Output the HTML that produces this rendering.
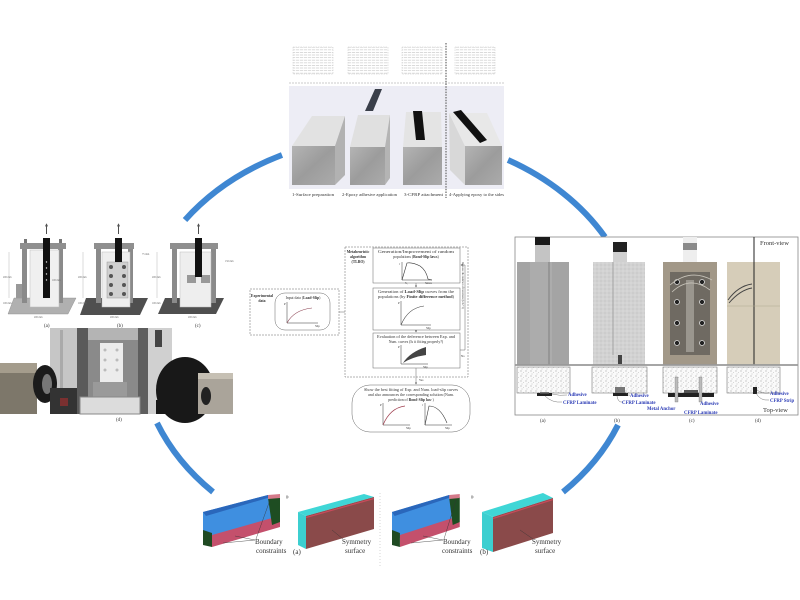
<!DOCTYPE html>
<html><head><meta charset="utf-8"><style>
html,body{margin:0;padding:0;background:#fff;}
svg{display:block;}
text{font-family:"Liberation Serif",serif;}
</style></head><body>
<svg width="800" height="600" viewBox="0 0 800 600" xmlns="http://www.w3.org/2000/svg">
<defs>
<pattern id="tl" width="4" height="2.6" patternUnits="userSpaceOnUse"><rect width="3.2" height="0.8" fill="#d2d2d2"/></pattern>
<pattern id="spk" width="5" height="5" patternUnits="userSpaceOnUse"><rect width="5" height="5" fill="#fafafa"/><circle cx="1" cy="1" r="0.45" fill="#777"/><circle cx="3.5" cy="2.5" r="0.35" fill="#999"/><circle cx="2" cy="4" r="0.4" fill="#888"/></pattern>
<pattern id="spk2" width="4" height="4" patternUnits="userSpaceOnUse"><rect width="4" height="4" fill="#d2d2d2"/><circle cx="1" cy="1" r="0.5" fill="#b5b5b5"/><circle cx="3" cy="3" r="0.5" fill="#e8e8e8"/></pattern>
<linearGradient id="cf" x1="0" y1="0" x2="1" y2="1"><stop offset="0" stop-color="#b4b4b4"/><stop offset="0.5" stop-color="#9c9c9c"/><stop offset="1" stop-color="#ababab"/></linearGradient>
<marker id="ah" markerWidth="4" markerHeight="4" refX="3" refY="2" orient="auto"><path d="M0,0 L4,2 L0,4 Z" fill="#555"/></marker>
</defs>
<rect width="800" height="600" fill="#fff"/>

<!-- blue arcs -->
<g fill="none" stroke="#3f87d2" stroke-width="6">
<path d="M185,220 A253,205 0 0,1 282,155"/>
<path d="M508,160 A253,205 0 0,1 605,237"/>
<path d="M618,425 A253,205 0 0,1 563,492"/>
<path d="M213,492 A253,205 0 0,1 157,423"/>
</g>

<!-- ============ TOP PANEL ============ -->
<g>
<g stroke="#c8c8c8" stroke-width="0.5" stroke-dasharray="1.5 1">
<rect x="293" y="47" width="40" height="27" fill="url(#tl)"/>
<rect x="348" y="47" width="40" height="27" fill="url(#tl)"/>
<rect x="402" y="47" width="40" height="27" fill="url(#tl)"/>
<rect x="455" y="47" width="40" height="27" fill="url(#tl)"/>
</g>
<line x1="289" y1="83" x2="504" y2="83" stroke="#bbb" stroke-width="0.8" stroke-dasharray="2 1"/>
<rect x="289" y="86" width="215" height="103" fill="#ededf5"/>
<!-- block1 -->
<polygon points="292,146 312,116 345,116 335,146" fill="#e2e2e2"/>
<polygon points="335,146 345,116 345,175 335,185" fill="#b2b2b2"/>
<rect x="292" y="146" width="43" height="39" fill="url(#cf)"/>
<!-- block2 -->
<polygon points="350,147 358,115 390,115 385,147" fill="#e0e0e0"/>
<polygon points="385,147 390,115 390,178 385,185" fill="#b4b4b4"/>
<rect x="350" y="147" width="35" height="38" fill="url(#cf)"/>
<polygon points="365,111 373,111 382,89 375,89" fill="#3a3f4a"/>
<!-- block3 -->
<polygon points="403,147 406,112 441,112 442,147" fill="#e4e4e4"/>
<rect x="403" y="147" width="39" height="38" fill="url(#cf)"/>
<polygon points="413,111 422,111 425,140 416,140" fill="#111"/>
<!-- block4 -->
<polygon points="449,113 465,146 465,185 450,170" fill="#d8d8d8"/>
<polygon points="449,113 487,113 502,146 465,146" fill="#e8e8e8"/>
<rect x="465" y="146" width="37" height="39" fill="url(#cf)"/>
<polygon points="453,112 461,110 487,140 480,143" fill="#111"/>
<line x1="446" y1="43" x2="446" y2="198" stroke="#666" stroke-width="1.2" stroke-dasharray="1.5 1.2"/>
<g font-size="4.6" fill="#333">
<text x="292" y="196" textLength="42" lengthAdjust="spacingAndGlyphs">1-Surface preparation</text>
<text x="342" y="196" textLength="55" lengthAdjust="spacingAndGlyphs">2-Epoxy adhesive application</text>
<text x="404" y="196" textLength="39" lengthAdjust="spacingAndGlyphs">3-CFRP attachment</text>
<text x="449" y="196" textLength="55" lengthAdjust="spacingAndGlyphs">4-Applying epoxy to the sides</text>
</g>
</g>

<!-- ============ LEFT PANEL ============ -->
<g>
<!-- (a) -->
<polygon points="14,298 76,298 68,314 8,314" fill="#b0b0b0" stroke="#888" stroke-width="0.4"/>
<rect x="16" y="284" width="8" height="14" fill="#999"/>
<rect x="22" y="245" width="5" height="58" fill="#8a8a8a"/>
<rect x="58" y="245" width="5" height="58" fill="#8a8a8a"/>
<rect x="30" y="250" width="29" height="57" fill="#f0f0f0" stroke="#bbb" stroke-width="0.5"/>
<rect x="20" y="243" width="46" height="6" fill="#8f8f8f"/>
<rect x="24" y="239" width="3" height="4" fill="#777"/><rect x="59" y="239" width="3" height="4" fill="#777"/>
<rect x="43" y="238" width="7" height="60" fill="#111"/>
<g fill="#ddd"><circle cx="46.5" cy="262" r="0.7"/><circle cx="46.5" cy="268" r="0.7"/><circle cx="46.5" cy="274" r="0.7"/><circle cx="46.5" cy="280" r="0.7"/></g>
<line x1="46.5" y1="234" x2="46.5" y2="224" stroke="#222" stroke-width="0.8" marker-end="url(#ah)"/>
<!-- (b) -->
<polygon points="86,298 148,298 140,315 80,315" fill="#4f4f4f"/>
<rect x="96" y="245" width="5" height="58" fill="#8a8a8a"/>
<rect x="128" y="245" width="5" height="58" fill="#8a8a8a"/>
<rect x="102" y="252" width="28" height="55" fill="#eee" stroke="#bbb" stroke-width="0.5"/>
<rect x="94" y="243" width="40" height="6" fill="#8f8f8f"/>
<rect x="107" y="262" width="21" height="36" fill="#d0d0d0" stroke="#999" stroke-width="0.5"/>
<g fill="#555"><circle cx="111" cy="267" r="2"/><circle cx="124" cy="267" r="2"/><circle cx="111" cy="276" r="2"/><circle cx="124" cy="276" r="2"/><circle cx="111" cy="285" r="2"/><circle cx="124" cy="285" r="2"/><circle cx="111" cy="294" r="2"/><circle cx="124" cy="294" r="2"/></g>
<rect x="115" y="238" width="7" height="24" fill="#111"/>
<line x1="118.5" y1="234" x2="118.5" y2="224" stroke="#222" stroke-width="0.8" marker-end="url(#ah)"/>
<!-- (c) -->
<polygon points="165,298 224,298 216,314 158,314" fill="#4f4f4f"/>
<rect x="172" y="245" width="5" height="58" fill="#8a8a8a"/>
<rect x="211" y="245" width="5" height="58" fill="#8a8a8a"/>
<rect x="180" y="252" width="31" height="55" fill="#eee" stroke="#bbb" stroke-width="0.5"/>
<rect x="170" y="243" width="48" height="6" fill="#8f8f8f"/>
<rect x="187" y="275" width="9" height="8" fill="#999"/><rect x="201" y="275" width="9" height="8" fill="#999"/>
<rect x="195" y="238" width="7" height="39" fill="#111"/>
<line x1="198.5" y1="234" x2="198.5" y2="224" stroke="#222" stroke-width="0.8" marker-end="url(#ah)"/>
<g font-size="2.6" fill="#666">
<text x="3" y="278">200 mm</text><text x="3" y="304">100 mm</text><text x="52" y="281">100 mm</text>
<text x="78" y="278">200 mm</text><text x="78" y="304">100 mm</text><text x="142" y="255">75 mm</text>
<text x="152" y="278">200 mm</text><text x="152" y="304">100 mm</text><text x="225" y="262">150 mm</text>
<text x="34" y="318">200 mm</text><text x="110" y="318">200 mm</text><text x="188" y="318">200 mm</text>
</g>
<g stroke="#888" stroke-width="0.3"><line x1="9" y1="252" x2="9" y2="298"/><line x1="83" y1="252" x2="83" y2="298"/><line x1="157" y1="252" x2="157" y2="298"/></g>
<g font-size="5" fill="#333"><text x="44" y="327">(a)</text><text x="117" y="327">(b)</text><text x="195" y="327">(c)</text></g>

<!-- (d) photo -->
<rect x="50" y="328" width="122" height="86" fill="#c6c6c6"/>
<rect x="77" y="328" width="11" height="86" fill="#5a5a5a"/>
<rect x="138" y="328" width="10" height="86" fill="#5e5e5e"/>
<rect x="88" y="328" width="50" height="70" fill="#8a8a8a"/>
<rect x="88" y="328" width="50" height="12" fill="#b4b4b4"/>
<rect x="100" y="343" width="23" height="40" fill="#ececec"/>
<g fill="#bbb"><circle cx="105" cy="350" r="1.5"/><circle cx="117" cy="350" r="1.5"/><circle cx="105" cy="360" r="1.5"/><circle cx="117" cy="360" r="1.5"/><circle cx="105" cy="370" r="1.5"/><circle cx="117" cy="370" r="1.5"/></g>
<rect x="93" y="382" width="34" height="15" fill="#9a9a9a"/>
<rect x="80" y="397" width="60" height="17" fill="#dcdcdc" stroke="#888" stroke-width="1"/>
<rect x="148" y="328" width="24" height="86" fill="#d0d0d0"/>
<rect x="155" y="330" width="7" height="17" fill="#444"/>
<rect x="60" y="330" width="3" height="84" fill="#aaa"/>
<!-- left camera -->
<rect x="0" y="363" width="37" height="51" fill="#7d776a"/>
<rect x="0" y="363" width="37" height="10" fill="#a49c8c"/>
<ellipse cx="45" cy="384" rx="12" ry="19" fill="#1b1b1b"/>
<ellipse cx="47" cy="384" rx="5" ry="10" fill="#777"/>
<rect x="50" y="388" width="27" height="26" fill="#333"/>
<rect x="60" y="398" width="8" height="8" fill="#7a3030"/>
<!-- right camera -->
<ellipse cx="185" cy="390" rx="29" ry="33" fill="#181818"/>
<rect x="156" y="400" width="58" height="14" fill="#181818"/>
<rect x="198" y="373" width="35" height="41" fill="#aaa49a"/>
<rect x="198" y="373" width="35" height="6" fill="#c6c0b4"/>
<ellipse cx="206" cy="396" rx="5" ry="9" fill="#222"/>
<text x="116" y="421" font-size="5" fill="#333">(d)</text>
</g>

<!-- ============ CENTER FLOWCHART ============ -->
<g fill="none" stroke="#666" stroke-width="0.5">
<rect x="250" y="289" width="89" height="46" stroke-dasharray="2 1"/>
<rect x="275" y="293" width="55" height="37" rx="10"/>
<line x1="339" y1="312" x2="345" y2="312"/>
<rect x="345" y="247" width="123" height="130" stroke-dasharray="2 1"/>
<rect x="373" y="248" width="87" height="35"/>
<rect x="373" y="288" width="87" height="42"/>
<rect x="373" y="333" width="87" height="35"/>
<line x1="416" y1="283" x2="416" y2="287" marker-end="url(#ah)"/>
<line x1="416" y1="330" x2="416" y2="332" marker-end="url(#ah)"/>
<polyline points="460,350 465,350 465,265 461,265" marker-end="url(#ah)"/>
<line x1="416" y1="368" x2="416" y2="384" marker-end="url(#ah)"/>
<rect x="352" y="385" width="118" height="47" rx="18"/>
</g>
<g fill="none" stroke="#333" stroke-width="0.5">
<path d="M287,302 V323 H318"/><path d="M402,262 V280 H432"/><path d="M401,301 V325 H431"/>
<path d="M401,345 V364 H428"/><path d="M383,403 V425 H410"/><path d="M425,403 V425 H452"/>
</g>
<path d="M287,323 Q294,310 312,308" fill="none" stroke="#8a4050" stroke-width="0.6"/>
<path d="M402,280 L407,263 Q412,262 420,266 Q426,270 428,279 L432,280" fill="none" stroke="#333" stroke-width="0.6"/>
<path d="M401,325 Q408,308 424,306" fill="none" stroke="#444" stroke-width="0.6"/>
<path d="M403,363 Q410,352 426,347 L426,355 Q412,357 403,363 Z" fill="#444"/>
<path d="M383,425 Q390,408 405,406" fill="none" stroke="#a04050" stroke-width="0.7"/>
<path d="M425,425 L429,406 Q440,406 447,423" fill="none" stroke="#333" stroke-width="0.6"/>
<g font-size="3.8" fill="#333" text-anchor="middle">
<text x="262" y="297" font-weight="bold">Experimental</text>
<text x="262" y="302" font-weight="bold">data</text>
<text x="303" y="299">Input data (<tspan font-weight="bold">Load-Slip</tspan>)</text>
<text x="358" y="253" font-weight="bold">Metaheuristic</text>
<text x="358" y="258" font-weight="bold">algorithm</text>
<text x="358" y="263" font-weight="bold">(TLBO)</text>
<text x="416" y="253" textLength="76" lengthAdjust="spacingAndGlyphs">Generation/Improvement of random</text>
<text x="416" y="258">populations (<tspan font-weight="bold">Bond-Slip laws</tspan>)</text>
<text x="416" y="293" textLength="76" lengthAdjust="spacingAndGlyphs">Generation of <tspan font-weight="bold">Load-Slip</tspan> curves from the</text>
<text x="416" y="298" textLength="76" lengthAdjust="spacingAndGlyphs">populations (by <tspan font-weight="bold">Finite difference method</tspan>)</text>
<text x="416" y="338" textLength="78" lengthAdjust="spacingAndGlyphs">Evaluation of the deference between Exp. and</text>
<text x="416" y="343">Num. curves (Is it fitting properly?)</text>
<text x="411" y="391" textLength="94" lengthAdjust="spacingAndGlyphs">Show the best fitting of Exp. and Num. load-slip curves</text>
<text x="411" y="396" textLength="86" lengthAdjust="spacingAndGlyphs">and also announces the corresponding solution (Num.</text>
<text x="411" y="401">prediction of <tspan font-weight="bold">Bond-Slip law</tspan> )</text>
</g>
<g font-size="3" fill="#333">
<text x="284" y="305">P</text><text x="315" y="327">Slip</text>
<text x="399" y="265">τ</text><text x="405" y="284">S₁</text><text x="425" y="284">Smax</text>
<text x="398" y="304">P</text><text x="426" y="329">Slip</text>
<text x="398" y="348">P</text><text x="423" y="368">Slip</text>
<text x="380" y="406">P</text><text x="406" y="429">Slip</text>
<text x="422" y="406">τ</text><text x="445" y="429">Slip</text>
<text x="461" y="357">No</text><text x="419" y="381">Yes</text>
<text x="462" y="262" transform="rotate(90 462 262)" font-size="2.8">Increase the number of iterations (k=k+1)</text>
</g>

<!-- ============ RIGHT PANEL ============ -->
<g>
<rect x="515" y="237" width="283" height="178" fill="#fff" stroke="#888" stroke-width="0.8"/>
<!-- (a) -->
<rect x="535" y="237" width="15" height="26" fill="#c4c4c4"/>
<rect x="535" y="237" width="15" height="8" fill="#1a1a1a"/>
<rect x="517" y="262" width="52" height="103" fill="#a4a4a4"/>
<rect x="530" y="262" width="22" height="103" fill="#acacac"/>
<line x1="549" y1="262" x2="549" y2="365" stroke="#777" stroke-width="0.8"/>
<!-- (b) -->
<rect x="613" y="242" width="14" height="20" fill="#d0d0d0"/>
<rect x="613" y="242" width="14" height="10" fill="#222"/>
<rect x="593" y="262" width="52" height="103" fill="url(#spk2)"/>
<line x1="613" y1="262" x2="613" y2="355" stroke="#888" stroke-width="0.6"/>
<rect x="618" y="355" width="4" height="9" fill="#444"/>
<!-- (c) -->
<rect x="683" y="237" width="14" height="25" fill="#eee"/>
<rect x="683" y="243" width="14" height="7" fill="#8a8a8a"/>
<rect x="663" y="262" width="54" height="103" fill="#a29888"/>
<rect x="670" y="272" width="40" height="83" fill="#6f6a62"/>
<g fill="#222" stroke="#ddd" stroke-width="0.8">
<circle cx="677" cy="282" r="2.5"/><circle cx="702" cy="282" r="2.5"/><circle cx="677" cy="302" r="2.5"/><circle cx="702" cy="302" r="2.5"/>
<circle cx="677" cy="323" r="2.5"/><circle cx="702" cy="323" r="2.5"/><circle cx="677" cy="343" r="2.5"/><circle cx="702" cy="343" r="2.5"/>
</g>
<rect x="686" y="280" width="8" height="72" fill="#9a968e"/>
<path d="M670,285 Q690,268 712,280 M672,292 Q690,275 710,290" stroke="#c8c4ba" stroke-width="0.8" fill="none"/>
<!-- (d) -->
<rect x="727" y="262" width="53" height="103" fill="#d6cdb9"/>
<line x1="754" y1="237" x2="754" y2="365" stroke="#222" stroke-width="1"/>
<line x1="727" y1="306" x2="780" y2="306" stroke="#b0a890" stroke-width="0.5"/>
<path d="M728,300 Q738,286 752,284 M729,303 Q740,290 752,288" stroke="#444" stroke-width="0.9" fill="none"/>
<text x="760" y="245" font-size="6.5" fill="#333">Front-view</text>
<line x1="515" y1="365" x2="798" y2="365" stroke="#999" stroke-width="1.8"/>
<!-- top-view -->
<g stroke="#777" stroke-width="0.6" fill="url(#spk)">
<rect x="517" y="367" width="53" height="26"/>
<rect x="592" y="367" width="55" height="26"/>
<rect x="663" y="367" width="54" height="26"/>
<rect x="727" y="367" width="53" height="26"/>
</g>
<rect x="537" y="393" width="15" height="3" fill="#222"/><rect x="540" y="392" width="9" height="1.5" fill="#777"/>
<rect x="615" y="387" width="10" height="7" fill="#777"/><rect x="613" y="393" width="15" height="3" fill="#222"/>
<rect x="668" y="393" width="46" height="4" fill="#222"/><rect x="684" y="390" width="14" height="3" fill="#555"/>
<rect x="675" y="377" width="3" height="25" fill="#bbb" stroke="#666" stroke-width="0.3"/>
<rect x="699" y="377" width="3" height="25" fill="#bbb" stroke="#666" stroke-width="0.3"/>
<rect x="753" y="387" width="4" height="7" fill="#222"/>
<g fill="none" stroke="#555" stroke-width="0.4">
<path d="M552,394 Q560,396 567,395"/><path d="M545,396 Q552,403 562,402"/>
<path d="M625,392 Q628,396 630,395"/><path d="M617,396 Q618,403 623,402"/>
<path d="M757,390 Q762,394 769,393"/><path d="M756,393 Q760,401 769,400"/>
</g>
<g font-size="4.8" font-weight="bold" fill="#2b3bb5">
<text x="568" y="396">Adhesive</text><text x="563" y="404">CFRP Laminate</text>
<text x="630" y="397">Adhesive</text><text x="622" y="404">CFRP Laminate</text>
<text x="700" y="405">Adhesive</text><text x="647" y="410">Metal Anchor</text><text x="684" y="414">CFRP Laminate</text>
<text x="770" y="395">Adhesive</text><text x="770" y="402">CFRP Strip</text>
</g>
<text x="763" y="412" font-size="6.5" fill="#333">Top-view</text>
<g font-size="5" fill="#333"><text x="540" y="422">(a)</text><text x="614" y="422">(b)</text><text x="689" y="422">(c)</text><text x="755" y="422">(d)</text></g>
</g>

<!-- ============ BOTTOM PANEL ============ -->
<g id="b1">
<polygon points="203,512 268,495 271,497 271,521 212,538 203,533" fill="#3f8fe0"/>
<polygon points="203,512 268,495 271,497 206,516" fill="#2a67bb"/>
<polygon points="212,535 272,518 280,522 280,527 212,547" fill="#c4506c"/>
<polygon points="268,498 280,497 280,522 272,525" fill="#1e4d22"/>
<polygon points="268,495 280,494 280,498 268,499" fill="#d47a8a"/>
<polygon points="203,530 212,533 212,547 203,545" fill="#1f4a22"/>
</g>
<use href="#b1" transform="translate(392,0) scale(0.88,1) translate(-203,0)"/>
<!-- a2 -->
<polygon points="298,512 364,494 374,497 306,516" fill="#3fd6d6"/>
<polygon points="298,512 306,516 306,549 298,545" fill="#3ccfd0"/>
<polygon points="306,516 374,497 374,529 306,549" fill="#8a4a4a"/>
<line x1="306" y1="517.5" x2="374" y2="498.5" stroke="#c84a5a" stroke-width="1.2"/>
<!-- b2 -->
<polygon points="482,512 543,493 553,498 493,517" fill="#3fd6d6"/>
<polygon points="482,512 493,517 493,552 482,548" fill="#3ccfd0"/>
<polygon points="493,517 553,498 553,533 493,552" fill="#8a4a4a"/>
<line x1="493" y1="518.5" x2="553" y2="499.5" stroke="#c84a5a" stroke-width="1.2"/>
<g stroke="#333" stroke-width="0.4" fill="none">
<line x1="255" y1="540" x2="235" y2="536"/><line x1="255" y1="540" x2="223" y2="543"/><line x1="256" y1="539" x2="270" y2="500"/>
<line x1="343" y1="539" x2="332" y2="530"/>
<line x1="443" y1="540" x2="423" y2="536"/><line x1="443" y1="540" x2="411" y2="543"/><line x1="444" y1="539" x2="456" y2="500"/>
<line x1="533" y1="539" x2="520" y2="530"/>
<path d="M286,497 h3 M287,495 v4"/><path d="M471,497 h3 M472,495 v4"/>
</g>
<line x1="380" y1="493" x2="380" y2="566" stroke="#ccc" stroke-width="0.8" stroke-dasharray="1 2"/>
<g font-size="7" fill="#333">
<text x="255" y="544">Boundary</text><text x="256" y="553">constraints</text><text x="293" y="554">(a)</text>
<text x="342" y="544">Symmetry</text><text x="345" y="553">surface</text>
<text x="443" y="544">Boundary</text><text x="442" y="553">constraints</text><text x="480" y="554">(b)</text>
<text x="532" y="544">Symmetry</text><text x="535" y="553">surface</text>
</g>
</svg>
</body></html>
